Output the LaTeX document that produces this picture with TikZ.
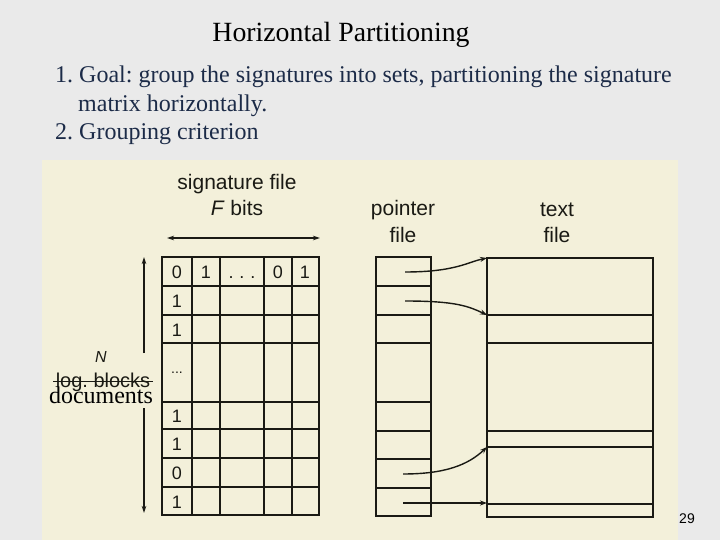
\documentclass[tikz,border=0pt]{standalone}
\usepackage{fontspec}
\setmainfont{Liberation Serif}
\newfontfamily\photofont{Liberation Sans}
\usetikzlibrary{arrows.meta}
\definecolor{slidebg}{HTML}{EAEAEA}
\definecolor{paper}{HTML}{F3F0DA}
\definecolor{ink}{HTML}{1A1A14}
\definecolor{navy}{HTML}{1C2B48}
\frenchspacing
\tikzset{
  grid line/.style={draw=ink, line width=1.6pt},
  thin grid/.style={draw=ink, line width=1.2pt},
  photo text/.style={text=ink, font=\photofont\fontsize{21}{22}\selectfont, inner sep=0pt, anchor=base},
  cell text/.style={text=ink, font=\photofont\fontsize{18}{19}\selectfont, inner sep=0pt, anchor=base},
  slide text/.style={text=navy, font=\fontsize{24}{26}\selectfont, inner sep=0pt, anchor=base west},
  ptr/.style={draw=ink, line width=1.4pt, -{Stealth[length=7pt,width=5pt]}},
  dim arrow/.style={draw=ink, line width=1.3pt, -{Stealth[length=7pt,width=4.5pt]}},
}
\begin{document}
\begin{tikzpicture}[x=1pt,y=-1pt]
\useasboundingbox (0,0) rectangle (720,540);
\fill[slidebg] (0,0) rectangle (720,540);
\fill[paper] (42,160) rectangle (678,540);

% slide texts
\node[font=\fontsize{27.8}{29}\selectfont, text=black, inner sep=0pt, anchor=base] (title) at (341,42) {Horizontal Partitioning};
\node[slide text] (l1) at (55,83) {1. Goal: group the signatures into sets, partitioning the signature};
\node[slide text] (l2) at (78,112) {matrix horizontally.};
\node[slide text] (l3) at (55,140) {2. Grouping criterion};
\node[font=\photofont\fontsize{14}{15}\selectfont, text=black, inner sep=0pt] (pg) at (687,519) {29};

% signature file labels
\node[photo text] (sigl) at (237,190) {signature file};
\node[photo text] (fbits) at (237,215) {\textit{F} bits};
\draw[dim arrow, {Stealth[length=7pt,width=4.5pt]}-{Stealth[length=7pt,width=4.5pt]}] (167,238) -- (320,238);

% signature matrix
\draw[grid line] (162,257) rectangle (319,515);
\foreach \y in {286,315,343,402,429,458,487} \draw[grid line] (162,\y) -- (319,\y);
\foreach \x in {192,220,264,292} \draw[thin grid] (\x,257) -- (\x,515);
\node[cell text] (c11) at (177,278) {0};
\node[cell text] (c12) at (206,278) {1};
\node[cell text] (c13) at (242,278) {.\,\,.\,\,.};
\node[cell text] (c14) at (278,278) {0};
\node[cell text] (c15) at (305,278) {1};
\node[cell text] (c21) at (177,307) {1};
\node[cell text] (c31) at (177,336) {1};
\node[cell text, font=\photofont\fontsize{14}{15}\selectfont] (c41) at (177,373) {...};
\node[cell text] (c51) at (177,422) {1};
\node[cell text] (c61) at (177,450) {1};
\node[cell text] (c71) at (177,479) {0};
\node[cell text] (c81) at (177,508) {1};

% N documents arrow
\coordinate (na) at (144,353);
\coordinate (nb) at (144,257);
\coordinate (nc) at (144,408);
\coordinate (nd) at (144,513);
\draw[dim arrow] (na) -- (nb);
\draw[dim arrow] (nc) -- (nd);
\node[photo text, font=\photofont\itshape\fontsize{16}{17}\selectfont] (N) at (101,362) {N};
\node[photo text, font=\photofont\fontsize{20}{21}\selectfont] (lb) at (103,387) {log. blocks};
\draw[ink, line width=1pt] (53,381) -- (153,381);
\node[text=black, font=\fontsize{24}{26}\selectfont, inner sep=0pt, anchor=base] (docs) at (101,403) {documents};

% pointer file
\node[photo text] (pl1) at (403,215) {pointer};
\node[photo text] (pl2) at (403,242) {file};
\draw[grid line] (376,257) rectangle (431,516);
\foreach \y in {286,315,343,402,431,459,488} \draw[grid line] (376,\y) -- (431,\y);

% text file
\node[photo text] (tl1) at (557,217) {text};
\node[photo text] (tl2) at (557,242) {file};
\draw[grid line] (487,258) rectangle (653,517);
\foreach \y in {315,343,431,447,504} \draw[grid line] (487,\y) -- (653,\y);

% pointers
\coordinate (p1) at (405,272);
\coordinate (p2) at (405,301);
\coordinate (p7) at (403,474);
\coordinate (p8) at (403,503);
\coordinate (t1) at (487,258);
\coordinate (t2) at (487,315);
\coordinate (t7) at (487,447);
\coordinate (t8) at (487,503);
\draw[ptr] (p1) .. controls (455,272) and (468,262) .. (t1);
\draw[ptr] (p2) .. controls (455,301) and (468,306) .. (t2);
\draw[ptr] (p7) .. controls (445,474) and (468,465) .. (t7);
\draw[ptr] (p8) -- (t8);
\end{tikzpicture}
\end{document}
